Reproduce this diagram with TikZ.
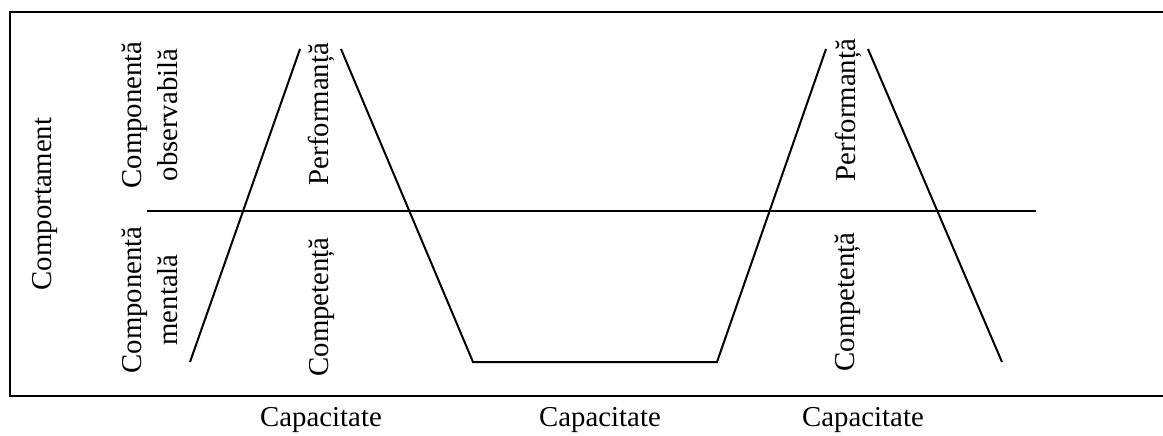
\documentclass[tikz,border=0pt]{standalone}
\usepackage{fontspec}
\setmainfont{Liberation Serif}
\usetikzlibrary{positioning}

\begin{document}
\begin{tikzpicture}[x=0.5pt,y=-0.5pt,
    lbl/.style={rotate=90,align=center,inner sep=0pt,font=\fontsize{14.4}{18}\selectfont},
    axislbl/.style={inner sep=0pt,font=\fontsize{14.4}{18}\selectfont},
    trace/.style={line width=1pt,line join=miter}]
    \useasboundingbox (0,0) rectangle (1163,435);
    % frame, open on the right
    \coordinate (ftr) at (1164,12);
    \coordinate (ftl) at (10,12);
    \coordinate (fbl) at (10,396);
    \coordinate (fbr) at (1164,396);
    \draw[trace,line width=1.2pt] (ftr) -- (ftl) -- (fbl) -- (fbr);
    % divider
    \coordinate (dl) at (147,211);
    \coordinate (dr) at (1036,211);
    \draw[trace] (dl) -- (dr);
    % left peak
    \coordinate (a1) at (190,362);
    \coordinate (a2) at (300,49);
    \coordinate (a3) at (341,49);
    \coordinate (a4) at (473,362);
    % right peak
    \coordinate (b1) at (717,362);
    \coordinate (b2) at (826,49);
    \coordinate (b3) at (868,49);
    \coordinate (b4) at (1002,362);
    \draw[trace] (a1) -- (a2);
    \draw[trace] (a3) -- (a4) -- (b1) -- (b2);
    \draw[trace] (b3) -- (b4);
    % labels
    \node[lbl] (comp) at (45,204) {Comportament};
    \node[lbl] (obs) at (150,115) {Componentă\\observabilă};
    \node[lbl] (ment) at (150,300) {Componentă\\mentală};
    \node[lbl] (perfa) at (321,114) {Performanță};
    \node[lbl] (compa) at (322,307) {Competență};
    \node[lbl] (perfb) at (848,110) {Performanță};
    \node[lbl] (compb) at (848,302) {Competență};
    \node[axislbl] (capa) at (321,420) {Capacitate};
    \node[axislbl] (capb) at (600,420) {Capacitate};
    \node[axislbl] (capc) at (863,420) {Capacitate};
\end{tikzpicture}
\end{document}
